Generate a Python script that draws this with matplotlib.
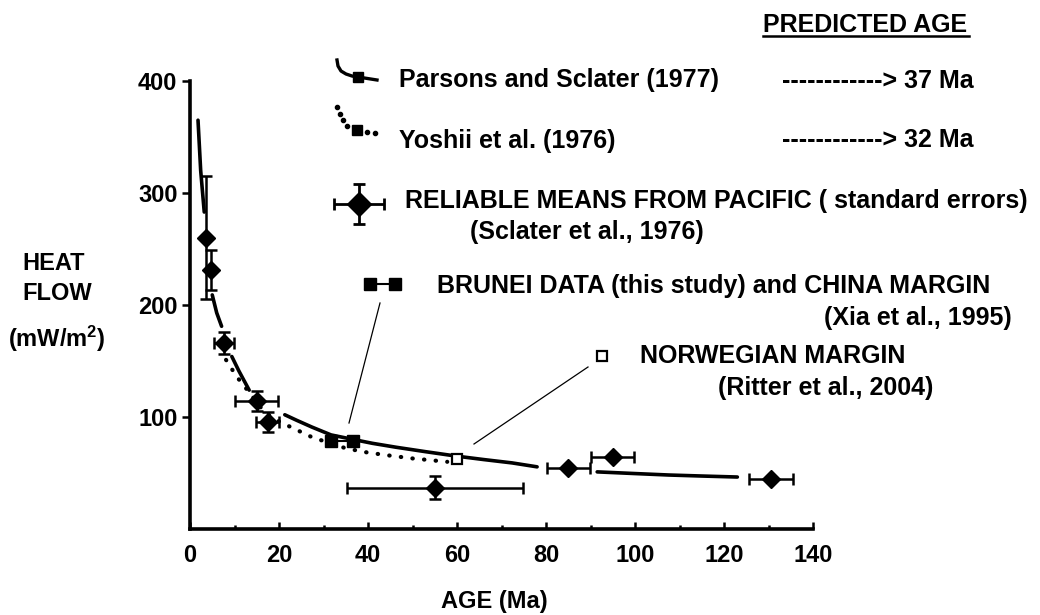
import matplotlib
matplotlib.use("Agg")
import matplotlib.pyplot as plt

plt.rcParams['font.family'] = ['Liberation Sans', 'DejaVu Sans']
plt.rcParams['font.weight'] = 'bold'
plt.rcParams['mathtext.fontset'] = 'custom'
plt.rcParams['mathtext.rm'] = 'Liberation Sans:bold'
plt.rcParams['mathtext.bf'] = 'Liberation Sans:bold'
plt.rcParams['mathtext.it'] = 'Liberation Sans:bold'

# Reliable heat-flow means from the Pacific (Sclater et al., 1976)
pacific_age = [3.6, 4.7, 7.6, 15.0, 17.5, 55.0, 85.0, 95.0, 130.6]
pacific_hf = [260, 231, 166, 114, 95.5, 37, 54.5, 64, 44.6]
pacific_age_err = [0, 0, 2.3, 4.8, 2.6, 19.8, 4.8, 4.8, 5.0]
pacific_hf_err = [55, 18, 10, 9, 9, 10, 0, 0, 0]

# Brunei / China margin and Norwegian margin values
brunei_age = [31.7, 36.6]
brunei_hf = [79, 79]
norway_age = [60]
norway_hf = [62.5]

# Parsons and Sclater (1977) cooling curve, drawn as broken pieces
parsons_age = [[1.8, 2.4, 3.2],
               [5.0, 6.0, 7.1],
               [9.4, 11.0, 13.3],
               [21.3, 24, 27.4, 31.7, 36.6, 41, 46.3, 53, 60, 66, 72.4, 78],
               [91.5, 100, 107.6, 115, 123]]
parsons_hf = [[365, 320, 283],
              [209, 193, 181],
              [154, 141, 124],
              [102, 97, 91, 84, 80, 76.5, 73, 69, 65, 62, 59, 55.5],
              [51, 49.5, 48.2, 47.3, 46.4]]

# Yoshii et al. (1976) curve
yoshii_age = [8.1, 10.5, 13.3, 16, 18.5, 21.6, 27.4, 34.2, 38.7, 44, 50, 57.8]
yoshii_hf = [151, 136, 122, 108, 99, 93, 82, 73, 69, 66, 63, 60]

xticks = [0, 20, 40, 60, 80, 100, 120, 140]
yticks = [100, 200, 300, 400]

W, H = 1040, 615
fig = plt.figure(figsize=(W / 100, H / 100), dpi=100)
ax = fig.add_axes([190 / W, (H - 529) / H, (813 - 190) / W, (529 - 81) / H])

for xs, ys in zip(parsons_age, parsons_hf):
    ax.plot(xs, ys, color='black', lw=2.6, solid_capstyle='round', zorder=2)
ax.plot(yoshii_age, yoshii_hf, color='black', lw=3.0, linestyle=(0, (0.1, 2.7)),
        dash_capstyle='round', zorder=2)

ax.errorbar(pacific_age, pacific_hf, xerr=pacific_age_err, yerr=pacific_hf_err,
            fmt='D', color='black', ms=9, elinewidth=1.8, capsize=4.5,
            capthick=1.8, zorder=4)
ax.plot(brunei_age, brunei_hf, color='black', lw=1.5, marker='s', ms=8.5, zorder=5)
ax.plot(norway_age, norway_hf, linestyle='none', marker='s', ms=7.5,
        mfc='white', mec='black', mew=1.6, zorder=5)

ax.set_xlim(0, 140)
ax.set_ylim(0, 400)
ax.set_xticks(xticks)
ax.set_xticks([10, 30, 50, 70, 90, 110, 130], minor=True)
ax.set_yticks(yticks)
ax.tick_params(axis='x', which='major', direction='in', length=5, width=1.8,
               labelsize=17, pad=11)
ax.tick_params(axis='x', which='minor', direction='in', length=3, width=1.8)
ax.tick_params(axis='y', direction='out', length=6, width=1.8, labelsize=17, pad=3)
for lab in ax.get_xticklabels() + ax.get_yticklabels():
    lab.set_fontweight('bold')
for s in ['top', 'right']:
    ax.spines[s].set_visible(False)
for s in ['left', 'bottom']:
    ax.spines[s].set_linewidth(2.6)

# Overlay in pixel coordinates for the key and the axis captions
ov = fig.add_axes([0, 0, 1, 1], zorder=10)
ov.set_xlim(0, W)
ov.set_ylim(H, 0)
ov.axis('off')
ov.patch.set_alpha(0)

big = 18
small = 17

def label(x, y, s, size=big, ha='left'):
    ov.text(x, y, s, fontsize=size, fontweight='bold', ha=ha, va='baseline')

label(22, 270, 'HEAT', small)
label(22, 300, 'FLOW', small)
label(8, 347, '(mW/m$^{2}$)', small)
label(494, 608, 'AGE (Ma)', small, ha='center')

label(763, 32, 'PREDICTED AGE')
ov.plot([763, 969], [36, 36], color='black', lw=1.8)

label(399, 87, 'Parsons and Sclater (1977)')
label(782, 88, '------------> 37 Ma')
label(399, 148, 'Yoshii et al. (1976)')
label(782, 147, '------------> 32 Ma')
label(405, 208, 'RELIABLE MEANS FROM PACIFIC ( standard errors)')
label(470, 239, '(Sclater et al., 1976)')
label(437, 293, 'BRUNEI DATA (this study) and CHINA MARGIN')
label(1012, 325, '(Xia et al., 1995)', ha='right')
label(640, 363, 'NORWEGIAN MARGIN')
label(933, 395, '(Ritter et al., 2004)', ha='right')

# key symbols
ov.plot([337, 338, 341, 346, 352, 358, 377], [60, 66, 71, 74, 76, 77, 80],
        color='black', lw=2.4)
ov.plot([358], [77], marker='s', ms=7.5, color='black')
ov.plot([337, 339.5, 342.5, 347, 367, 375], [107, 113.5, 120, 126, 132, 133],
        color='black', linestyle='none', marker='o', ms=3)
ov.plot([357], [130], marker='s', ms=7.5, color='black')
ov.errorbar([359], [204], xerr=[25], yerr=[20], fmt='D', color='black', ms=12,
            elinewidth=2, capsize=4.5, capthick=2)
ov.plot([370, 395], [284, 284], color='black', lw=1.5, marker='s', ms=8.5)
ov.plot([602], [356], marker='s', ms=7.5, mfc='white', mec='black', mew=1.6)

# leader lines
ov.plot([380, 349], [303, 423], color='black', lw=0.9)
ov.plot([588, 474], [367, 444], color='black', lw=0.9)

fig.savefig('out.png', dpi=100)
